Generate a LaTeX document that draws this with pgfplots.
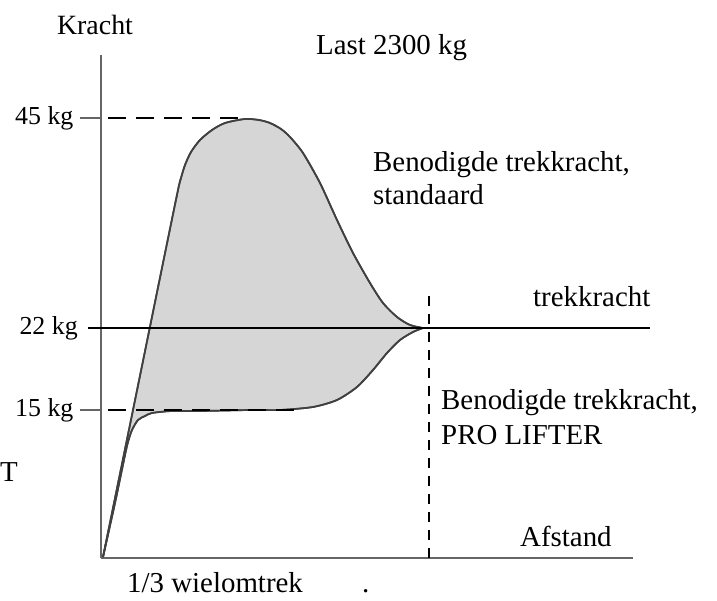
\documentclass[border=0pt]{standalone}
\usepackage{pgfplots}
\pgfplotsset{compat=1.18}
\usepgfplotslibrary{fillbetween}
\usepackage{fontspec}
\setmainfont{Liberation Serif}
\definecolor{curve}{HTML}{404040}
\definecolor{axgray}{HTML}{666666}
\definecolor{fillgray}{HTML}{D6D6D6}
\tikzset{lbl/.style={font=\fontsize{29}{33}\selectfont, inner sep=0pt, text=black}}
\begin{document}
\begin{tikzpicture}
\begin{axis}[
  x=1bp, y=1bp,
  xmin=0, xmax=532, ymin=0, ymax=503,
  axis lines=left,
  axis line style={-, axgray, line width=1.5bp},
  clip=false,
  xtick=\empty,
  ytick={148,440},
  yticklabels={15 kg,45 kg},
  major tick length=21bp,
  tick align=outside,
  tick style={axgray, line width=1.3bp},
  yticklabel style={font=\fontsize{26}{30}\selectfont, text=black, xshift=-3bp},
]
\path[draw=none] (axis cs:-101,-43) rectangle (axis cs:616,558);
\addplot[name path=upper, curve, line width=1.7bp, smooth, tension=0.45] coordinates {
(2,1)(42,197)(62,295)(77,368)(80,380)(84,393)(90,406)(99,418)(111,428)(124,435)(144,439)(158,438)(169,435)(180,429)(189,421)(202,405)(219,375)(236,338)(252,305)(269,275)(282,255)(296,241)(309,233)(322,230)
};
\addplot[name path=lower, curve, line width=1.7bp, smooth, tension=0.45] coordinates {
(2,1)(14,55)(24,103)(27,116)(31,128)(37,138)(44,142)(51,145)(71,147)(100,147)(150,148)(179,148)(212,151)(236,158)(256,171)(272,188)(286,205)(299,218)(312,226)(322,230)
};
\addplot[fillgray, draw=none] fill between[of=upper and lower];
% redraw curves on top of fill
\addplot[curve, line width=1.7bp, smooth, tension=0.45] coordinates {
(2,1)(42,197)(62,295)(77,368)(80,380)(84,393)(90,406)(99,418)(111,428)(124,435)(144,439)(158,438)(169,435)(180,429)(189,421)(202,405)(219,375)(236,338)(252,305)(269,275)(282,255)(296,241)(309,233)(322,230)
};
\addplot[curve, line width=1.7bp, smooth, tension=0.45] coordinates {
(2,1)(14,55)(24,103)(27,116)(31,128)(37,138)(44,142)(51,145)(71,147)(100,147)(150,148)(179,148)(212,151)(236,158)(256,171)(272,188)(286,205)(299,218)(312,226)(322,230)
};
% trekkracht line
\addplot[black, line width=2.6bp] coordinates {(-13,230)(549,230)};
% dashed helpers
\addplot[black, line width=1.6bp, dash pattern=on 18bp off 10bp] coordinates {(7,440)(144,440)};
\addplot[black, line width=1.6bp, dash pattern=on 18bp off 10bp] coordinates {(7,148)(199,148)};
\addplot[black, line width=1.6bp, dash pattern=on 10bp off 8bp] coordinates {(328,0)(328,262)};
% texts
\node[lbl, font=\fontsize{26}{30}\selectfont, anchor=east] at (axis cs:-23,230) {22 kg};
\node[lbl, font=\fontsize{28}{32}\selectfont, anchor=base] at (axis cs:-6,523) {Kracht};
\node[lbl, anchor=base west] at (axis cs:215,503) {Last 2300 kg};
\node[lbl, anchor=base west] at (axis cs:272,386) {Benodigde trekkracht,};
\node[lbl, anchor=base west] at (axis cs:272,353) {standaard};
\node[lbl, anchor=base west] at (axis cs:432,251) {trekkracht};
\node[lbl, anchor=base west] at (axis cs:340,148) {Benodigde trekkracht,};
\node[lbl, anchor=base west] at (axis cs:340,113) {PRO LIFTER};
\node[lbl, anchor=base west] at (axis cs:419,11) {Afstand};
\node[lbl, anchor=base west] at (axis cs:26,-35) {1/3 wielomtrek};
\node[lbl, anchor=base west] at (axis cs:261,-35) {.};
\node[lbl, anchor=base west] at (axis cs:-101,76) {T};
\end{axis}
\end{tikzpicture}
\end{document}
